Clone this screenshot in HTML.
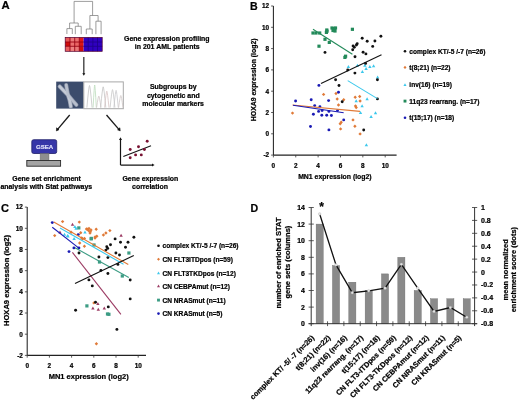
<!DOCTYPE html>
<html><head><meta charset="utf-8"><style>
html,body{margin:0;padding:0;background:#fff;}
body{width:520px;height:401px;overflow:hidden;}
svg{display:block;filter:blur(0.3px);}
svg text{font-family:"Liberation Sans",sans-serif;font-weight:bold;stroke:#000;stroke-width:0.22px;}
</style></head><body>
<svg width="520" height="401" viewBox="0 0 520 401">
<text x="1.6" y="9.1" font-size="11.3" text-anchor="start" >A</text>
<path d="M74.1 1.4L92.6 1.4 M74.1 1.4L74.1 23 M92.6 1.4L92.6 15.5 M69.6 23L78.2 23 M69.6 23L69.6 28.6 M66.9 28.6L72.3 28.6 M66.9 28.6L66.9 34.0 M72.3 28.6L72.3 34.0 M78.2 23L78.2 26.3 M75.3 26.3L81.2 26.3 M75.3 26.3L75.3 34.2 M81.2 26.3L81.2 34.2 M89.9 15.5L98.1 15.5 M89.9 15.5L89.9 29 M86.3 29L92.2 29 M86.3 29L86.3 34.2 M92.2 29L92.2 34.2 M98.1 15.5L98.1 21.2 M95.9 21.2L101.1 21.2 M95.9 21.2L95.9 34.2 M101.1 21.2L101.1 34.2" stroke="#7c7c7c" stroke-width="0.75" fill="none"/>
<rect x="65.2" y="37.4" width="4.80" height="4.60" fill="#e85858"/>
<rect x="70" y="37.4" width="4.70" height="4.60" fill="#ec7878"/>
<rect x="74.7" y="37.4" width="4.60" height="4.60" fill="#ec7070"/>
<rect x="79.3" y="37.4" width="4.30" height="4.60" fill="#e01818"/>
<rect x="65.2" y="42" width="4.80" height="4.30" fill="#d00c0c"/>
<rect x="70" y="42" width="4.70" height="4.30" fill="#ec7070"/>
<rect x="74.7" y="42" width="4.60" height="4.30" fill="#ea6464"/>
<rect x="79.3" y="42" width="4.30" height="4.30" fill="#dc1414"/>
<rect x="65.2" y="46.3" width="4.80" height="5.00" fill="#ea6060"/>
<rect x="70" y="46.3" width="4.70" height="5.00" fill="#ee8080"/>
<rect x="74.7" y="46.3" width="4.60" height="5.00" fill="#ec7878"/>
<rect x="79.3" y="46.3" width="4.30" height="5.00" fill="#d00c0c"/>
<line x1="70" y1="37.4" x2="70" y2="51.3" stroke="#980010" stroke-width="0.9"/>
<line x1="74.7" y1="37.4" x2="74.7" y2="51.3" stroke="#980010" stroke-width="0.9"/>
<line x1="79.3" y1="37.4" x2="79.3" y2="51.3" stroke="#980010" stroke-width="0.9"/>
<line x1="65.2" y1="42" x2="83.6" y2="42" stroke="#980010" stroke-width="0.9"/>
<line x1="65.2" y1="46.3" x2="83.6" y2="46.3" stroke="#980010" stroke-width="0.9"/>
<rect x="83.6" y="37.4" width="18.6" height="13.9" fill="#3000c0"/>
<line x1="88.2" y1="37.4" x2="88.2" y2="51.3" stroke="#1e0088" stroke-width="0.8"/>
<line x1="92.9" y1="37.4" x2="92.9" y2="51.3" stroke="#1e0088" stroke-width="0.8"/>
<line x1="97.5" y1="37.4" x2="97.5" y2="51.3" stroke="#1e0088" stroke-width="0.8"/>
<line x1="83.6" y1="42" x2="102.2" y2="42" stroke="#1e0088" stroke-width="0.8"/>
<line x1="83.6" y1="46.3" x2="102.2" y2="46.3" stroke="#1e0088" stroke-width="0.8"/>
<rect x="65.2" y="37.4" width="37" height="13.9" fill="none" stroke="#500030" stroke-width="0.7"/>
<line x1="83.8" y1="56.9" x2="83.8" y2="74" stroke="#444" stroke-width="1.4"/>
<path d="M82.3 73.2 L85.3 73.2 L83.8 75.8 Z" fill="#111"/>
<rect x="56.2" y="81.6" width="27.5" height="27" fill="#3c4c6c"/>
<path d="M59.8 86.6 Q65 92 68 95 Q70 100 70.8 106.4" stroke="#8f98aa" stroke-width="4.2" fill="none" stroke-linecap="round"/>
<path d="M66.2 85.0 Q67.2 91 68 95 Q72 100 76.4 104.8" stroke="#8f98aa" stroke-width="4.0" fill="none" stroke-linecap="round"/>
<path d="M59.8 86.6 Q65 92 68 95 Q70 100 70.8 106.4" stroke="#c4cad6" stroke-width="2.8" fill="none" stroke-linecap="round"/>
<path d="M66.2 85.0 Q67.2 91 68 95 Q72 100 76.4 104.8" stroke="#b8bfcd" stroke-width="2.6" fill="none" stroke-linecap="round"/>
<rect x="83.8" y="81.9" width="39.5" height="26.8" fill="#fff" stroke="#a8a8a8" stroke-width="1"/>
<path d="M86.90 107.6 Q88.85 85.50 89.50 85.50 Q90.15 85.50 92.10 107.6" stroke="#c4c4c4" stroke-width="0.8" fill="none"/>
<path d="M93.10 107.6 Q94.30 85.00 94.70 85.00 Q95.10 85.00 96.30 107.6" stroke="#bcdcbc" stroke-width="0.8" fill="none"/>
<path d="M96.60 107.6 Q98.25 96.00 98.80 96.00 Q99.35 96.00 101.00 107.6" stroke="#d0c8c8" stroke-width="0.8" fill="none"/>
<path d="M100.60 107.6 Q102.55 86.80 103.20 86.80 Q103.85 86.80 105.80 107.6" stroke="#c4c4c4" stroke-width="0.8" fill="none"/>
<path d="M104.60 107.6 Q106.25 91.20 106.80 91.20 Q107.35 91.20 109.00 107.6" stroke="#d8c4c4" stroke-width="0.8" fill="none"/>
<path d="M110.10 107.6 Q111.90 89.60 112.50 89.60 Q113.10 89.60 114.90 107.6" stroke="#c8c8c8" stroke-width="0.8" fill="none"/>
<path d="M113.90 107.6 Q115.55 90.40 116.10 90.40 Q116.65 90.40 118.30 107.6" stroke="#c8c8cc" stroke-width="0.8" fill="none"/>
<path d="M118.60 107.6 Q120.25 95.50 120.80 95.50 Q121.35 95.50 123.00 107.6" stroke="#d0c8c8" stroke-width="0.8" fill="none"/>
<line x1="69.7" y1="115" x2="57.6" y2="129.4" stroke="#1a1a1a" stroke-width="1.3"/>
<path d="M56.4 130.9 L56.6 127.8 L58.9 129.8 Z" fill="#111" stroke="#111" stroke-width="0.6"/>
<line x1="106.5" y1="115" x2="118.9" y2="129.4" stroke="#1a1a1a" stroke-width="1.3"/>
<path d="M120.2 130.9 L117.6 129.8 L119.9 127.8 Z" fill="#111" stroke="#111" stroke-width="0.6"/>
<rect x="31.8" y="139.7" width="24.9" height="13.8" rx="1.8" fill="#3636a8" stroke="#20206a" stroke-width="0.8"/>
<text x="44.55" y="148.7" font-size="6.1" text-anchor="middle" style="fill:#e4e4fc;stroke:#e4e4fc;stroke-width:0.15px">GSEA</text>
<rect x="40.1" y="153.6" width="8.9" height="6.6" fill="#8e8e8e" stroke="#666" stroke-width="0.4"/>
<rect x="26.8" y="160.5" width="33.8" height="5.7" fill="#a4a4a4" stroke="#2a2a2a" stroke-width="0.9"/>
<path d="M120.5 165.1 L120.5 139.5 M120.5 165.1 L152.5 165.1" stroke="#151515" stroke-width="1.2" fill="none"/>
<path d="M119 140 L122 140 L120.5 137.3 Z M152 163.6 L152 166.6 L154.6 165.1 Z" fill="#151515"/>
<line x1="123.3" y1="156.4" x2="151" y2="145.7" stroke="#151515" stroke-width="1.1"/>
<circle cx="130.2" cy="149.5" r="1.45" fill="#781232"/>
<circle cx="138.5" cy="146.7" r="1.45" fill="#781232"/>
<circle cx="147.2" cy="141.3" r="1.45" fill="#781232"/>
<circle cx="144.4" cy="149.5" r="1.45" fill="#781232"/>
<circle cx="135.6" cy="154.9" r="1.45" fill="#781232"/>
<circle cx="141.3" cy="154.9" r="1.45" fill="#781232"/>
<circle cx="130.2" cy="157.8" r="1.45" fill="#781232"/>
<text x="166.8" y="41.4" font-size="6.95" text-anchor="middle" >Gene expression profiling</text>
<text x="167.2" y="49.0" font-size="6.95" text-anchor="middle" >in 201 AML patients</text>
<text x="173.3" y="89.2" font-size="6.95" text-anchor="middle" >Subgroups by</text>
<text x="173.3" y="97.6" font-size="6.95" text-anchor="middle" >cytogenetic and</text>
<text x="173.1" y="105.7" font-size="6.95" text-anchor="middle" >molecular markers</text>
<text x="46.6" y="181.2" font-size="6.95" text-anchor="middle" >Gene set enrichment</text>
<text x="46.3" y="189.4" font-size="6.95" text-anchor="middle" >analysis with Stat pathways</text>
<text x="150.4" y="181.1" font-size="6.95" text-anchor="middle" >Gene expression</text>
<text x="150" y="189.1" font-size="6.95" text-anchor="middle" >correlation</text>
<text x="250.0" y="10.3" font-size="10.6" text-anchor="start" >B</text>
<line x1="273.4" y1="6.0" x2="273.4" y2="155.1" stroke="#222" stroke-width="1.05"/>
<line x1="273.4" y1="155.1" x2="396.6" y2="155.1" stroke="#222" stroke-width="1.05"/>
<line x1="271.09999999999997" y1="6.0" x2="273.4" y2="6.0" stroke="#333" stroke-width="0.8"/>
<text x="269.09999999999997" y="8.3" font-size="6.4" text-anchor="end" >12</text>
<line x1="271.09999999999997" y1="27.3" x2="273.4" y2="27.3" stroke="#333" stroke-width="0.8"/>
<text x="269.09999999999997" y="29.6" font-size="6.4" text-anchor="end" >10</text>
<line x1="271.09999999999997" y1="48.6" x2="273.4" y2="48.6" stroke="#333" stroke-width="0.8"/>
<text x="269.09999999999997" y="50.9" font-size="6.4" text-anchor="end" >8</text>
<line x1="271.09999999999997" y1="69.9" x2="273.4" y2="69.9" stroke="#333" stroke-width="0.8"/>
<text x="269.09999999999997" y="72.2" font-size="6.4" text-anchor="end" >6</text>
<line x1="271.09999999999997" y1="91.2" x2="273.4" y2="91.2" stroke="#333" stroke-width="0.8"/>
<text x="269.09999999999997" y="93.5" font-size="6.4" text-anchor="end" >4</text>
<line x1="271.09999999999997" y1="112.5" x2="273.4" y2="112.5" stroke="#333" stroke-width="0.8"/>
<text x="269.09999999999997" y="114.8" font-size="6.4" text-anchor="end" >2</text>
<line x1="271.09999999999997" y1="133.8" x2="273.4" y2="133.8" stroke="#333" stroke-width="0.8"/>
<text x="269.09999999999997" y="136.10000000000002" font-size="6.4" text-anchor="end" >0</text>
<line x1="271.09999999999997" y1="155.1" x2="273.4" y2="155.1" stroke="#333" stroke-width="0.8"/>
<text x="269.09999999999997" y="157.4" font-size="6.4" text-anchor="end" >-2</text>
<line x1="273.4" y1="155.1" x2="273.4" y2="157.4" stroke="#333" stroke-width="0.8"/>
<text x="273.4" y="167.7" font-size="6.4" text-anchor="middle" >0</text>
<line x1="295.76" y1="155.1" x2="295.76" y2="157.4" stroke="#333" stroke-width="0.8"/>
<text x="295.76" y="167.7" font-size="6.4" text-anchor="middle" >2</text>
<line x1="318.12" y1="155.1" x2="318.12" y2="157.4" stroke="#333" stroke-width="0.8"/>
<text x="318.12" y="167.7" font-size="6.4" text-anchor="middle" >4</text>
<line x1="340.48" y1="155.1" x2="340.48" y2="157.4" stroke="#333" stroke-width="0.8"/>
<text x="340.48" y="167.7" font-size="6.4" text-anchor="middle" >6</text>
<line x1="362.84" y1="155.1" x2="362.84" y2="157.4" stroke="#333" stroke-width="0.8"/>
<text x="362.84" y="167.7" font-size="6.4" text-anchor="middle" >8</text>
<line x1="385.2" y1="155.1" x2="385.2" y2="157.4" stroke="#333" stroke-width="0.8"/>
<text x="385.2" y="167.7" font-size="6.4" text-anchor="middle" >10</text>
<text transform="translate(256.4,79.8) rotate(-90)" font-size="6.9" text-anchor="middle">HOXA9 expression (log2)</text>
<text x="334.9" y="179" font-size="6.9" text-anchor="middle" >MN1 expression (log2)</text>
<path d="M323.6 92.7L325.3 94.4L323.6 96.10000000000001L321.90000000000003 94.4Z" fill="#e07a38"/>
<path d="M336 91.8L337.7 93.5L336 95.2L334.3 93.5Z" fill="#e07a38"/>
<path d="M337.2 97.3L338.9 99L337.2 100.7L335.5 99Z" fill="#e07a38"/>
<path d="M343.7 98.0L345.4 99.7L343.7 101.4L342.0 99.7Z" fill="#e07a38"/>
<path d="M338.5 103.3L340.2 105L338.5 106.7L336.8 105Z" fill="#e07a38"/>
<path d="M355.2 95.5L356.9 97.2L355.2 98.9L353.5 97.2Z" fill="#e07a38"/>
<path d="M359.7 94.8L361.4 96.5L359.7 98.2L358.0 96.5Z" fill="#e07a38"/>
<path d="M360.1 99.3L361.8 101L360.1 102.7L358.40000000000003 101Z" fill="#e07a38"/>
<path d="M355.5 104.3L357.2 106L355.5 107.7L353.8 106Z" fill="#e07a38"/>
<path d="M356.2 105.8L357.9 107.5L356.2 109.2L354.5 107.5Z" fill="#e07a38"/>
<path d="M353 118.2L354.7 119.9L353 121.60000000000001L351.3 119.9Z" fill="#e07a38"/>
<path d="M354.9 124.5L356.59999999999997 126.2L354.9 127.9L353.2 126.2Z" fill="#e07a38"/>
<path d="M340.2 122.0L341.9 123.7L340.2 125.4L338.5 123.7Z" fill="#e07a38"/>
<path d="M340.6 127.2L342.3 128.9L340.6 130.6L338.90000000000003 128.9Z" fill="#e07a38"/>
<path d="M360.1 132.20000000000002L361.8 133.9L360.1 135.6L358.40000000000003 133.9Z" fill="#e07a38"/>
<path d="M292.5 111.39999999999999L294.2 113.1L292.5 114.8L290.8 113.1Z" fill="#e07a38"/>
<path d="M341.2 120.5L342.9 122.2L341.2 123.9L339.5 122.2Z" fill="#e07a38"/>
<circle cx="318.9" cy="85.4" r="1.45" fill="#1a1ab4"/>
<circle cx="295.6" cy="101" r="1.45" fill="#1a1ab4"/>
<circle cx="311.2" cy="99.7" r="1.45" fill="#1a1ab4"/>
<circle cx="328.6" cy="100.6" r="1.45" fill="#1a1ab4"/>
<circle cx="314.7" cy="105.6" r="1.45" fill="#1a1ab4"/>
<circle cx="319.9" cy="106.8" r="1.45" fill="#1a1ab4"/>
<circle cx="318.6" cy="111.4" r="1.45" fill="#1a1ab4"/>
<circle cx="322.1" cy="110.6" r="1.45" fill="#1a1ab4"/>
<circle cx="328.9" cy="111.4" r="1.45" fill="#1a1ab4"/>
<circle cx="313.4" cy="114.3" r="1.45" fill="#1a1ab4"/>
<circle cx="321.8" cy="115.2" r="1.45" fill="#1a1ab4"/>
<circle cx="326.7" cy="115.2" r="1.45" fill="#1a1ab4"/>
<circle cx="331.4" cy="115.5" r="1.45" fill="#1a1ab4"/>
<circle cx="310.5" cy="126.5" r="1.45" fill="#1a1ab4"/>
<circle cx="328.9" cy="129.9" r="1.45" fill="#1a1ab4"/>
<circle cx="338.5" cy="92.2" r="1.45" fill="#1a1ab4"/>
<circle cx="343.7" cy="119.9" r="1.45" fill="#1a1ab4"/>
<circle cx="337.5" cy="110.6" r="1.45" fill="#1a1ab4"/>
<path d="M348.4 65.0L350.09999999999997 68.0L346.7 68.0Z" fill="#3cc8ec"/>
<path d="M357.4 63.8L359.09999999999997 66.8L355.7 66.8Z" fill="#3cc8ec"/>
<path d="M364.9 63.8L366.59999999999997 66.8L363.2 66.8Z" fill="#3cc8ec"/>
<path d="M366.1 66.9L367.8 69.9L364.40000000000003 69.9Z" fill="#3cc8ec"/>
<path d="M369.9 65.0L371.59999999999997 68.0L368.2 68.0Z" fill="#3cc8ec"/>
<path d="M373.6 64.2L375.3 67.2L371.90000000000003 67.2Z" fill="#3cc8ec"/>
<path d="M362.4 70.0L364.09999999999997 73.0L360.7 73.0Z" fill="#3cc8ec"/>
<path d="M377.6 75.60000000000001L379.3 78.60000000000001L375.90000000000003 78.60000000000001Z" fill="#3cc8ec"/>
<path d="M356.2 99.2L357.9 102.2L354.5 102.2Z" fill="#3cc8ec"/>
<path d="M367.1 97.2L368.8 100.2L365.40000000000003 100.2Z" fill="#3cc8ec"/>
<path d="M362.1 104.2L363.8 107.2L360.40000000000003 107.2Z" fill="#3cc8ec"/>
<path d="M360.5 110.9L362.2 113.9L358.8 113.9Z" fill="#3cc8ec"/>
<path d="M375.5 111.3L377.2 114.3L373.8 114.3Z" fill="#3cc8ec"/>
<path d="M371.1 115.0L372.8 118.0L369.40000000000003 118.0Z" fill="#3cc8ec"/>
<path d="M366.4 143.29999999999998L368.09999999999997 146.29999999999998L364.7 146.29999999999998Z" fill="#3cc8ec"/>
<rect x="311.4" y="31.4" width="3.2" height="3.2" fill="#238a5a"/>
<rect x="314.4" y="31.4" width="3.2" height="3.2" fill="#238a5a"/>
<rect x="318.09999999999997" y="31.4" width="3.2" height="3.2" fill="#238a5a"/>
<rect x="325.2" y="28.4" width="3.2" height="3.2" fill="#238a5a"/>
<rect x="324.79999999999995" y="30.799999999999997" width="3.2" height="3.2" fill="#238a5a"/>
<rect x="330.4" y="26.4" width="3.2" height="3.2" fill="#238a5a"/>
<rect x="332.9" y="26.9" width="3.2" height="3.2" fill="#238a5a"/>
<rect x="333.4" y="29.4" width="3.2" height="3.2" fill="#238a5a"/>
<rect x="331.4" y="28.9" width="3.2" height="3.2" fill="#238a5a"/>
<rect x="350.79999999999995" y="27.7" width="3.2" height="3.2" fill="#238a5a"/>
<rect x="323.4" y="37.699999999999996" width="3.2" height="3.2" fill="#238a5a"/>
<rect x="327.7" y="40.8" width="3.2" height="3.2" fill="#238a5a"/>
<rect x="317.4" y="44.6" width="3.2" height="3.2" fill="#238a5a"/>
<rect x="343.29999999999995" y="55.8" width="3.2" height="3.2" fill="#238a5a"/>
<rect x="344.0" y="54.6" width="3.2" height="3.2" fill="#238a5a"/>
<rect x="333.9" y="26.4" width="3.2" height="3.2" fill="#238a5a"/>
<rect x="325.4" y="29.599999999999998" width="3.2" height="3.2" fill="#238a5a"/>
<circle cx="325" cy="52.4" r="1.45" fill="#111111"/>
<circle cx="353.1" cy="45.9" r="1.45" fill="#111111"/>
<circle cx="354.3" cy="47.2" r="1.45" fill="#111111"/>
<circle cx="352.7" cy="49.7" r="1.45" fill="#111111"/>
<circle cx="357.2" cy="43.7" r="1.45" fill="#111111"/>
<circle cx="362.2" cy="38.3" r="1.45" fill="#111111"/>
<circle cx="367.2" cy="41.2" r="1.45" fill="#111111"/>
<circle cx="374.9" cy="41" r="1.45" fill="#111111"/>
<circle cx="380.9" cy="36.2" r="1.45" fill="#111111"/>
<circle cx="372.7" cy="46.4" r="1.45" fill="#111111"/>
<circle cx="363.1" cy="52.2" r="1.45" fill="#111111"/>
<circle cx="365.9" cy="53.9" r="1.45" fill="#111111"/>
<circle cx="355" cy="56.8" r="1.45" fill="#111111"/>
<circle cx="365.6" cy="63.4" r="1.45" fill="#111111"/>
<circle cx="347.7" cy="70" r="1.45" fill="#111111"/>
<circle cx="354.9" cy="73.1" r="1.45" fill="#111111"/>
<circle cx="335.6" cy="79.7" r="1.45" fill="#111111"/>
<circle cx="339" cy="85.5" r="1.45" fill="#111111"/>
<circle cx="377.4" cy="79.7" r="1.45" fill="#111111"/>
<circle cx="377.4" cy="98.9" r="1.45" fill="#111111"/>
<circle cx="342.2" cy="101.8" r="1.45" fill="#111111"/>
<circle cx="363.7" cy="130" r="1.45" fill="#111111"/>
<circle cx="356.4" cy="45" r="1.45" fill="#111111"/>
<line x1="313" y1="29.3" x2="352.4" y2="54.3" stroke="#238a5a" stroke-width="1.1"/>
<line x1="321" y1="83.5" x2="381.5" y2="54.7" stroke="#111111" stroke-width="1.1"/>
<line x1="347.7" y1="80.6" x2="377.4" y2="98.6" stroke="#3cc8ec" stroke-width="1.1"/>
<line x1="292.5" y1="105" x2="360" y2="111.4" stroke="#e07a38" stroke-width="1.1"/>
<line x1="293" y1="105.2" x2="343.7" y2="112.7" stroke="#1a1ab4" stroke-width="1.1"/>
<g transform="translate(405,51.2) scale(0.9)">
<circle cx="0" cy="0" r="1.45" fill="#111111"/>
</g>
<text x="409.3" y="53.6" font-size="6.6" text-anchor="start" >complex KT/-5 /-7 (n=26)</text>
<g transform="translate(405,67.4) scale(0.9)">
<path d="M0 -1.7L1.7 0L0 1.7L-1.7 0Z" fill="#e07a38"/>
</g>
<text x="409.3" y="69.80000000000001" font-size="6.6" text-anchor="start" >t(8;21) (n=22)</text>
<g transform="translate(405,84.9) scale(0.9)">
<path d="M0 -1.8L1.7 1.2L-1.7 1.2Z" fill="#3cc8ec"/>
</g>
<text x="409.3" y="87.30000000000001" font-size="6.6" text-anchor="start" >inv(16) (n=19)</text>
<g transform="translate(405,101.1) scale(0.9)">
<rect x="-1.6" y="-1.6" width="3.2" height="3.2" fill="#238a5a"/>
</g>
<text x="409.3" y="103.5" font-size="6.6" text-anchor="start" >11q23 rearrang. (n=17)</text>
<g transform="translate(405,117.8) scale(0.9)">
<circle cx="0" cy="0" r="1.45" fill="#1a1ab4"/>
</g>
<text x="409.3" y="120.2" font-size="6.6" text-anchor="start" >t(15;17) (n=18)</text>
<text x="1.0" y="212.2" font-size="11.0" text-anchor="start" >C</text>
<line x1="27.2" y1="207.12" x2="27.2" y2="355.38" stroke="#222" stroke-width="1.05"/>
<line x1="27.2" y1="355.38" x2="146" y2="355.38" stroke="#222" stroke-width="1.05"/>
<line x1="24.9" y1="207.12" x2="27.2" y2="207.12" stroke="#333" stroke-width="0.8"/>
<text x="22.9" y="209.42000000000002" font-size="6.4" text-anchor="end" >12</text>
<line x1="24.9" y1="228.3" x2="27.2" y2="228.3" stroke="#333" stroke-width="0.8"/>
<text x="22.9" y="230.60000000000002" font-size="6.4" text-anchor="end" >10</text>
<line x1="24.9" y1="249.48" x2="27.2" y2="249.48" stroke="#333" stroke-width="0.8"/>
<text x="22.9" y="251.78" font-size="6.4" text-anchor="end" >8</text>
<line x1="24.9" y1="270.66" x2="27.2" y2="270.66" stroke="#333" stroke-width="0.8"/>
<text x="22.9" y="272.96000000000004" font-size="6.4" text-anchor="end" >6</text>
<line x1="24.9" y1="291.84" x2="27.2" y2="291.84" stroke="#333" stroke-width="0.8"/>
<text x="22.9" y="294.14" font-size="6.4" text-anchor="end" >4</text>
<line x1="24.9" y1="313.02" x2="27.2" y2="313.02" stroke="#333" stroke-width="0.8"/>
<text x="22.9" y="315.32" font-size="6.4" text-anchor="end" >2</text>
<line x1="24.9" y1="334.2" x2="27.2" y2="334.2" stroke="#333" stroke-width="0.8"/>
<text x="22.9" y="336.5" font-size="6.4" text-anchor="end" >0</text>
<line x1="24.9" y1="355.38" x2="27.2" y2="355.38" stroke="#333" stroke-width="0.8"/>
<text x="22.9" y="357.68" font-size="6.4" text-anchor="end" >-2</text>
<line x1="27.2" y1="355.38" x2="27.2" y2="357.68" stroke="#333" stroke-width="0.8"/>
<text x="27.2" y="367.98" font-size="6.4" text-anchor="middle" >0</text>
<line x1="49.4" y1="355.38" x2="49.4" y2="357.68" stroke="#333" stroke-width="0.8"/>
<text x="49.4" y="367.98" font-size="6.4" text-anchor="middle" >2</text>
<line x1="71.6" y1="355.38" x2="71.6" y2="357.68" stroke="#333" stroke-width="0.8"/>
<text x="71.6" y="367.98" font-size="6.4" text-anchor="middle" >4</text>
<line x1="93.8" y1="355.38" x2="93.8" y2="357.68" stroke="#333" stroke-width="0.8"/>
<text x="93.8" y="367.98" font-size="6.4" text-anchor="middle" >6</text>
<line x1="116.0" y1="355.38" x2="116.0" y2="357.68" stroke="#333" stroke-width="0.8"/>
<text x="116.0" y="367.98" font-size="6.4" text-anchor="middle" >8</text>
<line x1="138.2" y1="355.38" x2="138.2" y2="357.68" stroke="#333" stroke-width="0.8"/>
<text x="138.2" y="367.98" font-size="6.4" text-anchor="middle" >10</text>
<text transform="translate(9.4,280.5) rotate(-90)" font-size="7.6" text-anchor="middle">HOXA9 expression (log2)</text>
<text x="88.7" y="378.8" font-size="7.5" text-anchor="middle" >MN1 expression (log2)</text>
<path d="M62.6 219.9L64.3 221.6L62.6 223.29999999999998L60.9 221.6Z" fill="#e07a38"/>
<path d="M79.3 220.4L81.0 222.1L79.3 223.79999999999998L77.6 222.1Z" fill="#e07a38"/>
<path d="M54.7 233.9L56.400000000000006 235.6L54.7 237.29999999999998L53.0 235.6Z" fill="#e07a38"/>
<path d="M86.5 227.3L88.2 229L86.5 230.7L84.8 229Z" fill="#e07a38"/>
<path d="M88.5 228.8L90.2 230.5L88.5 232.2L86.8 230.5Z" fill="#e07a38"/>
<path d="M90.3 230.0L92.0 231.7L90.3 233.39999999999998L88.6 231.7Z" fill="#e07a38"/>
<path d="M87.5 227.60000000000002L89.2 229.3L87.5 231.0L85.8 229.3Z" fill="#e07a38"/>
<path d="M90 231.3L91.7 233L90 234.7L88.3 233Z" fill="#e07a38"/>
<path d="M96.2 227.60000000000002L97.9 229.3L96.2 231.0L94.5 229.3Z" fill="#e07a38"/>
<path d="M109.9 228.9L111.60000000000001 230.6L109.9 232.29999999999998L108.2 230.6Z" fill="#e07a38"/>
<path d="M105.9 231.3L107.60000000000001 233L105.9 234.7L104.2 233Z" fill="#e07a38"/>
<path d="M103.4 233.3L105.10000000000001 235L103.4 236.7L101.7 235Z" fill="#e07a38"/>
<path d="M96.8 234.5L98.5 236.2L96.8 237.89999999999998L95.1 236.2Z" fill="#e07a38"/>
<path d="M95 236.3L96.7 238L95 239.7L93.3 238Z" fill="#e07a38"/>
<path d="M82.5 237.0L84.2 238.7L82.5 240.39999999999998L80.8 238.7Z" fill="#e07a38"/>
<path d="M84.4 244.5L86.10000000000001 246.2L84.4 247.89999999999998L82.7 246.2Z" fill="#e07a38"/>
<path d="M79.7 241.3L81.4 243L79.7 244.7L78.0 243Z" fill="#e07a38"/>
<path d="M93.9 301.2L95.60000000000001 302.9L93.9 304.59999999999997L92.2 302.9Z" fill="#e07a38"/>
<path d="M96.4 342.1L98.10000000000001 343.8L96.4 345.5L94.7 343.8Z" fill="#e07a38"/>
<path d="M71.1 230.5L72.8 232.2L71.1 233.89999999999998L69.39999999999999 232.2Z" fill="#e07a38"/>
<path d="M80.7 231.0L82.4 232.7L80.7 234.39999999999998L79.0 232.7Z" fill="#e07a38"/>
<path d="M81.7 236.3L83.4 238L81.7 239.7L80.0 238Z" fill="#e07a38"/>
<path d="M84.5 236.70000000000002L86.2 238.4L84.5 240.1L82.8 238.4Z" fill="#e07a38"/>
<path d="M95.1 235.3L96.8 237L95.1 238.7L93.39999999999999 237Z" fill="#e07a38"/>
<path d="M89 226.8L90.7 228.5L89 230.2L87.3 228.5Z" fill="#e07a38"/>
<path d="M91 228.3L92.7 230L91 231.7L89.3 230Z" fill="#e07a38"/>
<path d="M64.5 232.7L66.2 235.7L62.8 235.7Z" fill="#3cc8ec"/>
<path d="M68 234.6L69.7 237.6L66.3 237.6Z" fill="#3cc8ec"/>
<path d="M74.1 236.89999999999998L75.8 239.89999999999998L72.39999999999999 239.89999999999998Z" fill="#3cc8ec"/>
<path d="M74.9 225.1L76.60000000000001 228.1L73.2 228.1Z" fill="#3cc8ec"/>
<path d="M85 230.6L86.7 233.6L83.3 233.6Z" fill="#3cc8ec"/>
<path d="M67.6 233.89999999999998L69.3 236.89999999999998L65.89999999999999 236.89999999999998Z" fill="#3cc8ec"/>
<path d="M76 226.7L77.7 229.7L74.3 229.7Z" fill="#3cc8ec"/>
<path d="M72.5 222.7L74.2 225.7L70.8 225.7Z" fill="#9c3c64"/>
<path d="M97.9 302.09999999999997L99.60000000000001 305.09999999999997L96.2 305.09999999999997Z" fill="#9c3c64"/>
<path d="M92.9 306.5L94.60000000000001 309.5L91.2 309.5Z" fill="#9c3c64"/>
<path d="M98.3 307.7L100.0 310.7L96.6 310.7Z" fill="#9c3c64"/>
<path d="M104.3 306.5L106.0 309.5L102.6 309.5Z" fill="#9c3c64"/>
<path d="M60 230.39999999999998L61.7 233.39999999999998L58.3 233.39999999999998Z" fill="#9c3c64"/>
<path d="M121.1 233.79999999999998L122.8 236.79999999999998L119.39999999999999 236.79999999999998Z" fill="#9c3c64"/>
<rect x="77.2" y="226.3" width="3.2" height="3.2" fill="#3c9c84"/>
<rect x="89.60000000000001" y="237.3" width="3.2" height="3.2" fill="#3c9c84"/>
<rect x="92.4" y="243.4" width="3.2" height="3.2" fill="#3c9c84"/>
<rect x="127.30000000000001" y="251.4" width="3.2" height="3.2" fill="#3c9c84"/>
<rect x="97.9" y="260.4" width="3.2" height="3.2" fill="#3c9c84"/>
<rect x="120.7" y="274.4" width="3.2" height="3.2" fill="#3c9c84"/>
<rect x="85.30000000000001" y="304.29999999999995" width="3.2" height="3.2" fill="#3c9c84"/>
<rect x="107.30000000000001" y="312.7" width="3.2" height="3.2" fill="#3c9c84"/>
<rect x="89.7" y="236.8" width="3.2" height="3.2" fill="#3c9c84"/>
<rect x="105.9" y="312.4" width="3.2" height="3.2" fill="#3c9c84"/>
<circle cx="79" cy="253" r="1.45" fill="#111111"/>
<circle cx="98.9" cy="257" r="1.45" fill="#111111"/>
<circle cx="107.9" cy="257.6" r="1.45" fill="#111111"/>
<circle cx="115.9" cy="253" r="1.45" fill="#111111"/>
<circle cx="119.5" cy="255" r="1.45" fill="#111111"/>
<circle cx="100.9" cy="270.4" r="1.45" fill="#111111"/>
<circle cx="107.9" cy="273.5" r="1.45" fill="#111111"/>
<circle cx="88.9" cy="279.9" r="1.45" fill="#111111"/>
<circle cx="92.3" cy="285.9" r="1.45" fill="#111111"/>
<circle cx="130.2" cy="280" r="1.45" fill="#111111"/>
<circle cx="130.2" cy="298.9" r="1.45" fill="#111111"/>
<circle cx="75.6" cy="310.3" r="1.45" fill="#111111"/>
<circle cx="95.5" cy="302.3" r="1.45" fill="#111111"/>
<circle cx="108.3" cy="306.9" r="1.45" fill="#111111"/>
<circle cx="116.9" cy="329.4" r="1.45" fill="#111111"/>
<circle cx="117.9" cy="264.4" r="1.45" fill="#111111"/>
<circle cx="133.9" cy="237.2" r="1.45" fill="#111111"/>
<circle cx="115.1" cy="238.9" r="1.45" fill="#111111"/>
<circle cx="120.5" cy="242.2" r="1.45" fill="#111111"/>
<circle cx="128" cy="242.2" r="1.45" fill="#111111"/>
<circle cx="110.5" cy="244.7" r="1.45" fill="#111111"/>
<circle cx="106.8" cy="246.8" r="1.45" fill="#111111"/>
<circle cx="107.7" cy="248.4" r="1.45" fill="#111111"/>
<circle cx="105.9" cy="250.1" r="1.45" fill="#111111"/>
<circle cx="125.5" cy="247.2" r="1.45" fill="#111111"/>
<circle cx="52.3" cy="222.6" r="1.45" fill="#1a1ab4"/>
<circle cx="73.9" cy="247.9" r="1.45" fill="#1a1ab4"/>
<circle cx="78.9" cy="247.9" r="1.45" fill="#1a1ab4"/>
<circle cx="69" cy="251.6" r="1.45" fill="#1a1ab4"/>
<circle cx="78.3" cy="234.6" r="1.45" fill="#1a1ab4"/>
<line x1="53.8" y1="222" x2="128.3" y2="264.6" stroke="#e07a38" stroke-width="1.1"/>
<line x1="60" y1="228.0" x2="123.5" y2="264.2" stroke="#3cc8ec" stroke-width="1.1"/>
<line x1="52.3" y1="227.3" x2="79.2" y2="248.4" stroke="#1a1ab4" stroke-width="1.1"/>
<line x1="75" y1="247.8" x2="128.8" y2="277.5" stroke="#3c9c84" stroke-width="1.1"/>
<line x1="72.4" y1="252.4" x2="120.9" y2="314.3" stroke="#9c3c64" stroke-width="1.1"/>
<line x1="75" y1="283.5" x2="133.8" y2="255.6" stroke="#111111" stroke-width="1.1"/>
<g transform="translate(158.5,245.8) scale(0.9)">
<circle cx="0" cy="0" r="1.45" fill="#111111"/>
</g>
<text x="162.5" y="248.20000000000002" font-size="6.6" text-anchor="start" >complex KT/-5 /-7 (n=26)</text>
<g transform="translate(158.5,259.3) scale(0.9)">
<path d="M0 -1.7L1.7 0L0 1.7L-1.7 0Z" fill="#e07a38"/>
</g>
<text x="162.5" y="261.7" font-size="6.6" text-anchor="start" >CN FLT3ITDpos (n=59)</text>
<g transform="translate(158.5,273.2) scale(0.9)">
<path d="M0 -1.8L1.7 1.2L-1.7 1.2Z" fill="#3cc8ec"/>
</g>
<text x="162.5" y="275.59999999999997" font-size="6.6" text-anchor="start" >CN FLT3TKDpos (n=12)</text>
<g transform="translate(158.5,286.2) scale(0.9)">
<path d="M0 -1.8L1.7 1.2L-1.7 1.2Z" fill="#9c3c64"/>
</g>
<text x="162.5" y="288.59999999999997" font-size="6.6" text-anchor="start" >CN CEBPAmut (n=12)</text>
<g transform="translate(158.5,300.1) scale(0.9)">
<rect x="-1.6" y="-1.6" width="3.2" height="3.2" fill="#3c9c84"/>
</g>
<text x="162.5" y="302.5" font-size="6.6" text-anchor="start" >CN NRASmut (n=11)</text>
<g transform="translate(158.5,313.6) scale(0.9)">
<circle cx="0" cy="0" r="1.45" fill="#1a1ab4"/>
</g>
<text x="162.5" y="316.0" font-size="6.6" text-anchor="start" >CN KRASmut (n=5)</text>
<text x="250.6" y="212.0" font-size="10.6" text-anchor="start" >D</text>
<rect x="316.12" y="224.10" width="7.1" height="99.60" fill="#8a8a8a" stroke="#6a6a6a" stroke-width="0.4"/>
<rect x="332.46" y="265.60" width="7.1" height="58.10" fill="#8a8a8a" stroke="#6a6a6a" stroke-width="0.4"/>
<rect x="348.80" y="282.20" width="7.1" height="41.50" fill="#8a8a8a" stroke="#6a6a6a" stroke-width="0.4"/>
<rect x="365.14" y="290.50" width="7.1" height="33.20" fill="#8a8a8a" stroke="#6a6a6a" stroke-width="0.4"/>
<rect x="381.48" y="273.90" width="7.1" height="49.80" fill="#8a8a8a" stroke="#6a6a6a" stroke-width="0.4"/>
<rect x="397.82" y="257.30" width="7.1" height="66.40" fill="#8a8a8a" stroke="#6a6a6a" stroke-width="0.4"/>
<rect x="414.16" y="290.50" width="7.1" height="33.20" fill="#8a8a8a" stroke="#6a6a6a" stroke-width="0.4"/>
<rect x="430.50" y="298.80" width="7.1" height="24.90" fill="#8a8a8a" stroke="#6a6a6a" stroke-width="0.4"/>
<rect x="446.84" y="298.80" width="7.1" height="24.90" fill="#8a8a8a" stroke="#6a6a6a" stroke-width="0.4"/>
<rect x="463.18" y="298.80" width="7.1" height="24.90" fill="#8a8a8a" stroke="#6a6a6a" stroke-width="0.4"/>
<line x1="311.2" y1="207.5" x2="311.2" y2="326.09999999999997" stroke="#333" stroke-width="1"/>
<line x1="474.6" y1="207.5" x2="474.6" y2="326.09999999999997" stroke="#333" stroke-width="1"/>
<line x1="308.59999999999997" y1="323.7" x2="477.20000000000005" y2="323.7" stroke="#333" stroke-width="1"/>
<line x1="327.54" y1="321.3" x2="327.54" y2="326.09999999999997" stroke="#333" stroke-width="0.8"/>
<line x1="343.88" y1="321.3" x2="343.88" y2="326.09999999999997" stroke="#333" stroke-width="0.8"/>
<line x1="360.22" y1="321.3" x2="360.22" y2="326.09999999999997" stroke="#333" stroke-width="0.8"/>
<line x1="376.56" y1="321.3" x2="376.56" y2="326.09999999999997" stroke="#333" stroke-width="0.8"/>
<line x1="392.90" y1="321.3" x2="392.90" y2="326.09999999999997" stroke="#333" stroke-width="0.8"/>
<line x1="409.24" y1="321.3" x2="409.24" y2="326.09999999999997" stroke="#333" stroke-width="0.8"/>
<line x1="425.58" y1="321.3" x2="425.58" y2="326.09999999999997" stroke="#333" stroke-width="0.8"/>
<line x1="441.92" y1="321.3" x2="441.92" y2="326.09999999999997" stroke="#333" stroke-width="0.8"/>
<line x1="458.26" y1="321.3" x2="458.26" y2="326.09999999999997" stroke="#333" stroke-width="0.8"/>
<line x1="308.59999999999997" y1="323.70" x2="313.8" y2="323.70" stroke="#333" stroke-width="0.8"/>
<text x="304.8" y="326.2" font-size="6.9" text-anchor="end" >0</text>
<line x1="308.59999999999997" y1="307.10" x2="313.8" y2="307.10" stroke="#333" stroke-width="0.8"/>
<text x="304.8" y="309.59999999999997" font-size="6.9" text-anchor="end" >2</text>
<line x1="308.59999999999997" y1="290.50" x2="313.8" y2="290.50" stroke="#333" stroke-width="0.8"/>
<text x="304.8" y="293.0" font-size="6.9" text-anchor="end" >4</text>
<line x1="308.59999999999997" y1="273.90" x2="313.8" y2="273.90" stroke="#333" stroke-width="0.8"/>
<text x="304.8" y="276.4" font-size="6.9" text-anchor="end" >6</text>
<line x1="308.59999999999997" y1="257.30" x2="313.8" y2="257.30" stroke="#333" stroke-width="0.8"/>
<text x="304.8" y="259.8" font-size="6.9" text-anchor="end" >8</text>
<line x1="308.59999999999997" y1="240.70" x2="313.8" y2="240.70" stroke="#333" stroke-width="0.8"/>
<text x="304.8" y="243.2" font-size="6.9" text-anchor="end" >10</text>
<line x1="308.59999999999997" y1="224.10" x2="313.8" y2="224.10" stroke="#333" stroke-width="0.8"/>
<text x="304.8" y="226.6" font-size="6.9" text-anchor="end" >12</text>
<line x1="308.59999999999997" y1="207.50" x2="313.8" y2="207.50" stroke="#333" stroke-width="0.8"/>
<text x="304.8" y="210.0" font-size="6.9" text-anchor="end" >14</text>
<line x1="472.0" y1="207.50" x2="477.20000000000005" y2="207.50" stroke="#333" stroke-width="0.8"/>
<text x="481.0" y="210.0" font-size="7.0" text-anchor="start" >1</text>
<line x1="472.0" y1="220.41" x2="477.20000000000005" y2="220.41" stroke="#333" stroke-width="0.8"/>
<text x="481.0" y="222.9111111111111" font-size="7.0" text-anchor="start" >0.8</text>
<line x1="472.0" y1="233.32" x2="477.20000000000005" y2="233.32" stroke="#333" stroke-width="0.8"/>
<text x="481.0" y="235.82222222222222" font-size="7.0" text-anchor="start" >0.6</text>
<line x1="472.0" y1="246.23" x2="477.20000000000005" y2="246.23" stroke="#333" stroke-width="0.8"/>
<text x="481.0" y="248.73333333333332" font-size="7.0" text-anchor="start" >0.4</text>
<line x1="472.0" y1="259.14" x2="477.20000000000005" y2="259.14" stroke="#333" stroke-width="0.8"/>
<text x="481.0" y="261.64444444444445" font-size="7.0" text-anchor="start" >0.2</text>
<line x1="472.0" y1="272.06" x2="477.20000000000005" y2="272.06" stroke="#333" stroke-width="0.8"/>
<text x="481.0" y="274.55555555555554" font-size="7.0" text-anchor="start" >0</text>
<line x1="472.0" y1="284.97" x2="477.20000000000005" y2="284.97" stroke="#333" stroke-width="0.8"/>
<text x="481.0" y="287.46666666666664" font-size="7.0" text-anchor="start" >-0.2</text>
<line x1="472.0" y1="297.88" x2="477.20000000000005" y2="297.88" stroke="#333" stroke-width="0.8"/>
<text x="481.0" y="300.3777777777778" font-size="7.0" text-anchor="start" >-0.4</text>
<line x1="472.0" y1="310.79" x2="477.20000000000005" y2="310.79" stroke="#333" stroke-width="0.8"/>
<text x="481.0" y="313.2888888888889" font-size="7.0" text-anchor="start" >-0.6</text>
<line x1="472.0" y1="323.70" x2="477.20000000000005" y2="323.70" stroke="#333" stroke-width="0.8"/>
<text x="481.0" y="326.2" font-size="7.0" text-anchor="start" >-0.8</text>
<polyline points="319.67,213.96 336.01,264.95 352.35,292.71 368.69,290.78 385.03,288.19 401.37,264.31 417.71,288.19 434.05,311.43 450.39,307.56 466.73,317.24" fill="none" stroke="#111" stroke-width="1.3"/>
<circle cx="319.67" cy="213.96" r="1.35" fill="#e4e4e4" stroke="#aaa" stroke-width="0.3"/>
<circle cx="336.01" cy="264.95" r="1.35" fill="#e4e4e4" stroke="#aaa" stroke-width="0.3"/>
<circle cx="352.35" cy="292.71" r="1.35" fill="#e4e4e4" stroke="#aaa" stroke-width="0.3"/>
<circle cx="368.69" cy="290.78" r="1.35" fill="#e4e4e4" stroke="#aaa" stroke-width="0.3"/>
<circle cx="385.03" cy="288.19" r="1.35" fill="#e4e4e4" stroke="#aaa" stroke-width="0.3"/>
<circle cx="401.37" cy="264.31" r="1.35" fill="#e4e4e4" stroke="#aaa" stroke-width="0.3"/>
<circle cx="417.71" cy="288.19" r="1.35" fill="#e4e4e4" stroke="#aaa" stroke-width="0.3"/>
<circle cx="434.05" cy="311.43" r="1.35" fill="#e4e4e4" stroke="#aaa" stroke-width="0.3"/>
<circle cx="450.39" cy="307.56" r="1.35" fill="#e4e4e4" stroke="#aaa" stroke-width="0.3"/>
<circle cx="466.73" cy="317.24" r="1.35" fill="#e4e4e4" stroke="#aaa" stroke-width="0.3"/>
<text x="321.6" y="210.6" font-size="12" text-anchor="middle" >*</text>
<text transform="translate(280.7,263.0) rotate(-90)" font-size="7.55" text-anchor="middle">number of enriched STAT</text>
<text transform="translate(289.6,262.1) rotate(-90)" font-size="7.55" text-anchor="middle">gene sets (columns)</text>
<text transform="translate(507.5,269.8) rotate(-90)" font-size="7.5" text-anchor="middle">mean normalized</text>
<text transform="translate(516.2,269.6) rotate(-90)" font-size="7.5" text-anchor="middle">enrichment score (dots)</text>
<text transform="translate(314.77,338.30) rotate(-45)" font-size="7.4" text-anchor="end">complex KT/ -5/ -7 (n=26)</text>
<text transform="translate(331.11,338.30) rotate(-45)" font-size="7.4" text-anchor="end">t(8;21) (n=22)</text>
<text transform="translate(347.45,338.30) rotate(-45)" font-size="7.4" text-anchor="end">inv(16) (n=16)</text>
<text transform="translate(363.79,338.30) rotate(-45)" font-size="7.4" text-anchor="end">11q23 rearrang. (n=17)</text>
<text transform="translate(380.13,338.30) rotate(-45)" font-size="7.4" text-anchor="end">t(15;17) (n=18)</text>
<text transform="translate(396.47,338.30) rotate(-45)" font-size="7.4" text-anchor="end">CN FLT3-ITDpos (n=59)</text>
<text transform="translate(412.81,338.30) rotate(-45)" font-size="7.4" text-anchor="end">CN FLT3-TKDpos (n=12)</text>
<text transform="translate(429.15,338.30) rotate(-45)" font-size="7.4" text-anchor="end">CN CEBPAmut (n=12)</text>
<text transform="translate(445.49,338.30) rotate(-45)" font-size="7.4" text-anchor="end">CN NRASmut (n=11)</text>
<text transform="translate(461.83,338.30) rotate(-45)" font-size="7.4" text-anchor="end">CN KRASmut (n=5)</text>
</svg></body></html>
